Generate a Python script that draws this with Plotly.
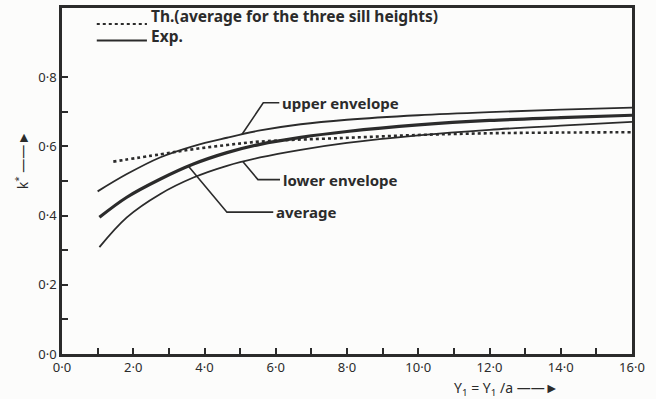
import numpy as np
import plotly.graph_objects as go

# ---- data ----
x_upper = [1.0, 1.82, 2.75, 3.69, 4.63, 5.56, 6.7, 8.0, 10.0, 12.0, 14.0, 16.0]
k_upper = [0.47, 0.52, 0.568, 0.601, 0.625, 0.646, 0.664, 0.677, 0.69, 0.699, 0.706, 0.712]

x_avg = [1.05, 1.82, 2.75, 3.69, 4.63, 5.56, 6.7, 8.0, 10.0, 12.0, 14.0, 16.0]
k_avg = [0.395, 0.453, 0.505, 0.549, 0.582, 0.606, 0.626, 0.643, 0.662, 0.675, 0.683, 0.690]

x_lower = [1.05, 1.82, 2.75, 3.69, 4.63, 5.56, 6.7, 8.0, 10.0, 12.0, 14.0, 16.0]
k_lower = [0.309, 0.395, 0.462, 0.51, 0.544, 0.568, 0.59, 0.61, 0.632, 0.648, 0.66, 0.671]

x_th = [1.44, 2.75, 3.69, 4.63, 5.56, 7.8, 10.0, 12.0, 14.0, 16.0]
k_th = [0.556, 0.577, 0.592, 0.604, 0.614, 0.624, 0.633, 0.638, 0.64, 0.641]

x_ticks = list(range(0, 17))
x_ticktext = [f"{v}·0" if v % 2 == 0 else "" for v in x_ticks]
y_ticks = [0.0, 0.1, 0.2, 0.3, 0.4, 0.5, 0.6, 0.7, 0.8]
y_ticktext = ["0·0", "", "0·2", "", "0·4", "", "0·6", "", "0·8"]

INK = "#2b2b2b"
FONT = "Noto Sans"

fig = go.Figure()
fig.add_trace(go.Scatter(x=x_upper, y=k_upper, mode="lines", line=dict(color=INK, width=1.8, shape="spline"), showlegend=False))
fig.add_trace(go.Scatter(x=x_avg, y=k_avg, mode="lines", line=dict(color=INK, width=3.2, shape="spline"), showlegend=False))
fig.add_trace(go.Scatter(x=x_lower, y=k_lower, mode="lines", line=dict(color=INK, width=1.8, shape="spline"), showlegend=False))
fig.add_trace(go.Scatter(x=x_th, y=k_th, mode="lines", line=dict(color=INK, width=2.6, dash="dot", shape="spline"), showlegend=False))

# leader lines for the curve labels (tips computed on the curves)
def tip(xs, ys, xv):
    return float(np.interp(xv, xs, ys))

leaders = [
    ("upper envelope", x_upper, k_upper, 5.05, 5.65, 0.726, 6.1),
    ("lower envelope", x_lower, k_lower, 5.08, 5.5, 0.504, 6.12),
    ("average", x_avg, k_avg, 3.55, 4.63, 0.41, 5.93),
]
shapes = []
annotations = []
for label, xs, ys, xt, xb, yb, xe in leaders:
    yt = tip(xs, ys, xt)
    shapes.append(dict(type="path", xref="x", yref="y",
                       path=f"M {xt},{yt} L {xb},{yb} L {xe},{yb}",
                       line=dict(color=INK, width=1.6)))
    annotations.append(dict(x=xe + 0.02, y=yb, xref="x", yref="y", text=f"<b>{label}</b>",
                            showarrow=False, xanchor="left", yanchor="middle",
                            font=dict(family=FONT, size=15, color=INK)))

# legend drawn inside the frame
shapes.append(dict(type="line", xref="paper", yref="paper", x0=0.061, x1=0.149, y0=0.954, y1=0.954,
                   line=dict(color=INK, width=2, dash="dot")))
shapes.append(dict(type="line", xref="paper", yref="paper", x0=0.061, x1=0.149, y0=0.906, y1=0.906,
                   line=dict(color=INK, width=2)))
annotations.append(dict(x=0.152, y=0.976, xref="paper", yref="paper", text="<b>Th.(average for the three sill heights)</b>",
                        showarrow=False, xanchor="left", yanchor="middle", font=dict(family=FONT, size=15.5, color=INK)))
annotations.append(dict(x=0.152, y=0.918, xref="paper", yref="paper", text="<b>Exp.</b>",
                        showarrow=False, xanchor="left", yanchor="middle", font=dict(family=FONT, size=15.5, color=INK)))

# axis titles
annotations.append(dict(x=0.684, y=-0.1, xref="paper", yref="paper",
                        text="Y<sub>1</sub> = Y<sub>1</sub> /a ——►",
                        showarrow=False, xanchor="left", yanchor="middle", font=dict(family=FONT, size=14, color=INK)))
annotations.append(dict(x=-0.07, y=0.56, xref="paper", yref="paper", text="k<sup>*</sup> ——►",
                        textangle=-90, showarrow=False, xanchor="center", yanchor="middle",
                        font=dict(family=FONT, size=14, color=INK)))

fig.update_layout(
    width=656, height=399,
    margin=dict(l=62, r=24, t=5, b=45),
    paper_bgcolor="#fcfcfb", plot_bgcolor="#fcfcfb",
    shapes=shapes, annotations=annotations,
    showlegend=False,
)
fig.update_xaxes(range=[0, 16], tickvals=x_ticks, ticktext=x_ticktext, ticks="inside", ticklen=6,
                 tickwidth=1.5, tickcolor=INK, showgrid=False, zeroline=False, showline=True,
                 linecolor=INK, linewidth=2.5, mirror=True,
                 tickfont=dict(family=FONT, size=13, color=INK))
fig.update_yaxes(range=[0, 1.0], tickvals=y_ticks, ticktext=y_ticktext, ticks="inside", ticklen=6,
                 tickwidth=1.5, tickcolor=INK, showgrid=False, zeroline=False, showline=True,
                 linecolor=INK, linewidth=2.5, mirror=True,
                 tickfont=dict(family=FONT, size=13, color=INK))

fig.write_html("out.html")
